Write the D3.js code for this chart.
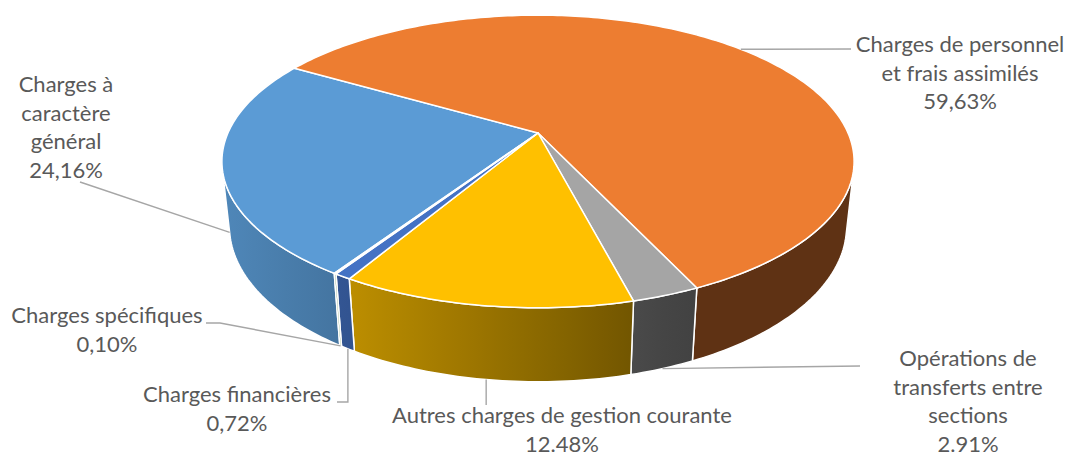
<!DOCTYPE html>
<html>
<head>
<meta charset="utf-8">
<script src="https://cdn.jsdelivr.net/npm/d3@7"></script>
<style>
  html, body { margin: 0; padding: 0; background: #fff; }
  svg { display: block; }
</style>
</head>
<body>
<div id="chart"></div>
<script>
// data, in slice order (clockwise)
const categories = [
  "Charges à caractère général",
  "Charges de personnel et frais assimilés",
  "Opérations de transferts entre sections",
  "Autres charges de gestion courante",
  "Charges financières",
  "Charges spécifiques"
];
const values = [24.16, 59.63, 2.91, 12.48, 0.72, 0.10];
const valueLabels = ["24,16%", "59,63%", "2.91%", "12.48%", "0,72%", "0,10%"];
const nameLines = [
  ["Charges à", "caractère", "général"],
  ["Charges de personnel", "et frais assimilés"],
  ["Opérations de", "transferts entre", "sections"],
  ["Autres charges de gestion courante"],
  ["Charges financières"],
  ["Charges spécifiques"]
];
const colors = ["#5B9BD5", "#ED7D31", "#A5A5A5", "#FFC000", "#4472C4", "#70AD47"];

// label placement (text centre, first baseline, leader points after the anchor)
const labelLayout = [
  { x: 66,  y: 92,  leader: [[80, 182]] },
  { x: 960, y: 52,  leader: [[851, 49]] },
  { x: 968, y: 366, leader: [[860, 366]] },
  { x: 562, y: 423, leader: [["ax", 405]] },
  { x: 237, y: 402, leader: [["ax", 402], [337, 402]] },
  { x: 107, y: 323, leader: [[220, 323], [206, 323]] }
];

const W = 1068, H = 457;
const firstAngle = 213.4 * Math.PI / 180;

// simple perspective camera for the 3d disc
const cx = 538, cy = 133, focal = 1420, dist = 4.58, depth = 0.237;
const tilt = 27 * Math.PI / 180;
const sT = Math.sin(tilt), cT = Math.cos(tilt);

function project(a, r, yl) {
  const x = r * Math.sin(a), z = -r * Math.cos(a);
  const Y = -z * sT + yl * cT;
  const D = dist - z * cT - yl * sT;
  return [cx + focal * x / D, cy - focal * Y / D];
}

function arcPts(a0, a1, yl) {
  const n = Math.max(2, Math.ceil(Math.abs(a1 - a0) / (Math.PI / 180)));
  return d3.range(n + 1).map(i => project(a0 + (a1 - a0) * i / n, 1, yl));
}

const svg = d3.select("#chart").append("svg")
  .attr("width", W)
  .attr("height", H);

const defs = svg.append("defs");

const pie = d3.pie().sort(null).value(d => d)
  .startAngle(firstAngle).endAngle(firstAngle + 2 * Math.PI);
const arcs = pie(values);

// front facing range of the outer wall
const v1 = Math.acos(-1 / (dist * cT));
const v2 = 2 * Math.PI - v1;
const xL = project(v2, 1, 0)[0], xR = project(v1, 1, 0)[0];

function shade(x) {
  const t = Math.max(0, Math.min(1, (x - 222) / (680 - 222)));
  return 0.87 - 0.47 * t;
}

arcs.forEach((a, i) => {
  const g = defs.append("linearGradient")
    .attr("id", "side" + i)
    .attr("gradientUnits", "userSpaceOnUse")
    .attr("x1", xL).attr("x2", xR).attr("y1", 0).attr("y2", 0);
  const base = d3.rgb(colors[i]);
  d3.range(0, 1.0001, 0.05).forEach(o => {
    const f = shade(xL + (xR - xL) * o);
    g.append("stop")
      .attr("offset", o)
      .attr("stop-color", d3.rgb(base.r * f, base.g * f, base.b * f).formatHex());
  });
});

const line = d3.line();

// outer walls (only the part turned to the camera)
const walls = svg.append("g");
arcs.forEach((a, i) => {
  [0, 2 * Math.PI].forEach(off => {
    const s = Math.max(a.startAngle, v1 + off);
    const e = Math.min(a.endAngle, v2 + off);
    if (e <= s) return;
    const top = arcPts(s, e, 0);
    const bot = arcPts(e, s, -depth);
    walls.append("path")
      .attr("d", line(top.concat(bot)) + "Z")
      .attr("fill", `url(#side${i})`)
      .attr("stroke", "#fff")
      .attr("stroke-width", 1.5)
      .attr("stroke-linejoin", "round");
  });
});

// top faces
const tops = svg.append("g");
const c0 = project(0, 0, 0);
arcs.forEach((a, i) => {
  const pts = [c0].concat(arcPts(a.startAngle, a.endAngle, 0));
  tops.append("path")
    .attr("d", line(pts) + "Z")
    .attr("fill", colors[i])
    .attr("stroke", "#fff")
    .attr("stroke-width", 1.5)
    .attr("stroke-linejoin", "round");
});

// leader lines
const leaders = svg.append("g")
  .attr("fill", "none")
  .attr("stroke", "#A6A6A6")
  .attr("stroke-width", 1.4);

arcs.forEach((a, i) => {
  const mid = (a.startAngle + a.endAngle) / 2;
  const z = -Math.cos(mid);
  const anchor = project(mid, 1, z > 0 ? -depth : 0);
  const pts = [anchor].concat(labelLayout[i].leader.map(p => [p[0] === "ax" ? anchor[0] : p[0], p[1]]));
  leaders.append("path").attr("d", line(pts));
});

// labels
const labels = svg.append("g")
  .attr("font-family", "Lato, 'Open Sans', sans-serif")
  .attr("font-size", 22)
  .attr("fill", "#595959")
  .attr("text-anchor", "middle");

categories.forEach((c, i) => {
  const L = labelLayout[i];
  const rows = nameLines[i].concat([valueLabels[i]]);
  const t = labels.append("text").attr("x", L.x).attr("y", L.y);
  rows.forEach((r, k) => {
    t.append("tspan")
      .attr("x", L.x)
      .attr("y", L.y + k * 28.5)
      .text(r);
  });
});
</script>
</body>
</html>
